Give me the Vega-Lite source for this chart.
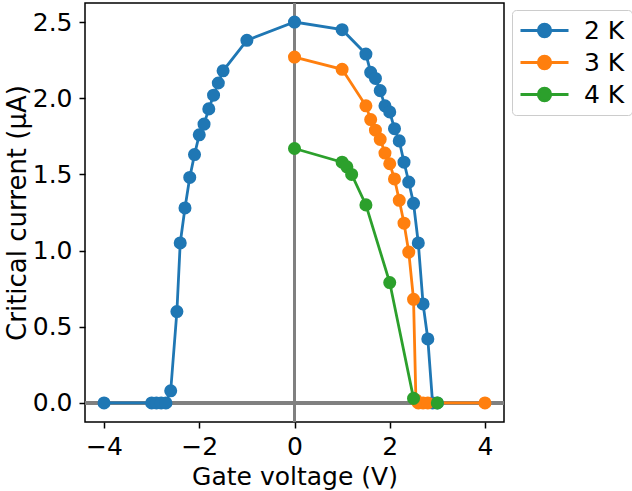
{
  "$schema": "https://vega.github.io/schema/vega-lite/v6.json",
  "autosize": {"type": "none"},
  "width": 419,
  "height": 419,
  "padding": {"left": 85, "top": 3, "right": 128, "bottom": 69},
  "config": {
    "font": "DejaVu Sans",
    "view": {"stroke": "black", "strokeWidth": 1.5},
    "axis": {
      "grid": false,
      "domain": false,
      "tickColor": "black",
      "tickWidth": 1.5,
      "tickSize": 6,
      "labelFontSize": 25,
      "labelColor": "black",
      "titleFontSize": 25,
      "titleFontWeight": "normal",
      "titleColor": "black"
    }
  },
  "data": {
    "values": [
      {"series": "2 K", "v": -4.0, "i": 0},
      {"series": "2 K", "v": -3.0, "i": 0},
      {"series": "2 K", "v": -2.9, "i": 0},
      {"series": "2 K", "v": -2.8, "i": 0},
      {"series": "2 K", "v": -2.7, "i": 0},
      {"series": "2 K", "v": -2.6, "i": 0.08},
      {"series": "2 K", "v": -2.47, "i": 0.6},
      {"series": "2 K", "v": -2.4, "i": 1.05},
      {"series": "2 K", "v": -2.3, "i": 1.28},
      {"series": "2 K", "v": -2.2, "i": 1.48},
      {"series": "2 K", "v": -2.1, "i": 1.63},
      {"series": "2 K", "v": -2.0, "i": 1.76},
      {"series": "2 K", "v": -1.9, "i": 1.83},
      {"series": "2 K", "v": -1.8, "i": 1.93},
      {"series": "2 K", "v": -1.7, "i": 2.02},
      {"series": "2 K", "v": -1.6, "i": 2.1},
      {"series": "2 K", "v": -1.5, "i": 2.18},
      {"series": "2 K", "v": -1.0, "i": 2.38},
      {"series": "2 K", "v": 0.0, "i": 2.5},
      {"series": "2 K", "v": 1.0, "i": 2.45},
      {"series": "2 K", "v": 1.5, "i": 2.29},
      {"series": "2 K", "v": 1.6, "i": 2.17},
      {"series": "2 K", "v": 1.7, "i": 2.13},
      {"series": "2 K", "v": 1.8, "i": 2.05},
      {"series": "2 K", "v": 1.9, "i": 1.95},
      {"series": "2 K", "v": 2.0, "i": 1.91},
      {"series": "2 K", "v": 2.1, "i": 1.8},
      {"series": "2 K", "v": 2.2, "i": 1.72},
      {"series": "2 K", "v": 2.3, "i": 1.58},
      {"series": "2 K", "v": 2.4, "i": 1.45},
      {"series": "2 K", "v": 2.5, "i": 1.31},
      {"series": "2 K", "v": 2.6, "i": 1.05},
      {"series": "2 K", "v": 2.7, "i": 0.65},
      {"series": "2 K", "v": 2.8, "i": 0.42},
      {"series": "2 K", "v": 2.9, "i": 0},
      {"series": "2 K", "v": 3.0, "i": 0},
      {"series": "3 K", "v": 0.0, "i": 2.27},
      {"series": "3 K", "v": 1.0, "i": 2.19},
      {"series": "3 K", "v": 1.5, "i": 1.95},
      {"series": "3 K", "v": 1.6, "i": 1.86},
      {"series": "3 K", "v": 1.7, "i": 1.79},
      {"series": "3 K", "v": 1.8, "i": 1.73},
      {"series": "3 K", "v": 1.9, "i": 1.64},
      {"series": "3 K", "v": 2.0, "i": 1.57},
      {"series": "3 K", "v": 2.1, "i": 1.47},
      {"series": "3 K", "v": 2.2, "i": 1.33},
      {"series": "3 K", "v": 2.3, "i": 1.18},
      {"series": "3 K", "v": 2.4, "i": 0.99},
      {"series": "3 K", "v": 2.5, "i": 0.68},
      {"series": "3 K", "v": 2.55, "i": 0.02},
      {"series": "3 K", "v": 2.6, "i": 0},
      {"series": "3 K", "v": 2.7, "i": 0},
      {"series": "3 K", "v": 2.8, "i": 0},
      {"series": "3 K", "v": 4.0, "i": 0},
      {"series": "4 K", "v": 0.0, "i": 1.67},
      {"series": "4 K", "v": 1.0, "i": 1.58},
      {"series": "4 K", "v": 1.1, "i": 1.55},
      {"series": "4 K", "v": 1.2, "i": 1.5},
      {"series": "4 K", "v": 1.5, "i": 1.3},
      {"series": "4 K", "v": 2.0, "i": 0.79},
      {"series": "4 K", "v": 2.5, "i": 0.03},
      {"series": "4 K", "v": 3.0, "i": 0}
    ]
  },
  "encoding": {
    "x": {
      "field": "v", "type": "quantitative",
      "scale": {"domain": [-4.4, 4.4], "nice": false, "zero": false},
      "axis": {"values": [-4, -2, 0, 2, 4], "title": "Gate voltage (V)", "labelPadding": 6, "titlePadding": 5}
    },
    "y": {
      "field": "i", "type": "quantitative",
      "scale": {"domain": [-0.125, 2.625], "nice": false, "zero": false},
      "axis": {"values": [0, 0.5, 1, 1.5, 2, 2.5], "format": ".1f", "title": "Critical current (μA)", "titleFontSize": 26, "labelPadding": 7, "titlePadding": 2}
    },
    "color": {
      "field": "series", "type": "nominal",
      "scale": {"domain": ["2 K", "3 K", "4 K"], "range": ["#1f77b4", "#ff7f0e", "#2ca02c"]},
      "legend": {
        "title": null,
        "orient": "none",
        "legendX": 427,
        "legendY": 7,
        "symbolType": "M-1,0L3,0M1.52,0A0.52,0.52,0,1,1,0.48,0A0.52,0.52,0,1,1,1.52,0Z",
        "symbolSize": 576,
        "symbolStrokeWidth": 2.8,
        "labelFontSize": 25,
        "labelColor": "black",
        "labelOffset": 38,
        "rowPadding": 5,
        "padding": 7,
        "strokeColor": "#cccccc",
        "fillColor": "white",
        "cornerRadius": 4,
        "encode": {
          "symbols": {
            "update": {
              "fill": {"scale": "color", "field": "value"},
              "stroke": {"scale": "color", "field": "value"},
              "opacity": {"value": 1}
            }
          }
        }
      }
    }
  },
  "layer": [
    {
      "mark": {"type": "rule", "color": "gray", "strokeWidth": 2.5},
      "encoding": {"x": {"datum": 0}, "y": null, "color": null}
    },
    {
      "mark": {"type": "rule", "color": "gray", "strokeWidth": 2.5},
      "encoding": {"y": {"datum": 0}, "x": null, "color": null}
    },
    {
      "mark": {"type": "line", "strokeWidth": 2.8},
      "encoding": {"detail": {"field": "series"}}
    },
    {
      "mark": {"type": "point", "filled": true, "size": 170, "opacity": 1},
      "encoding": {}
    }
  ]
}
